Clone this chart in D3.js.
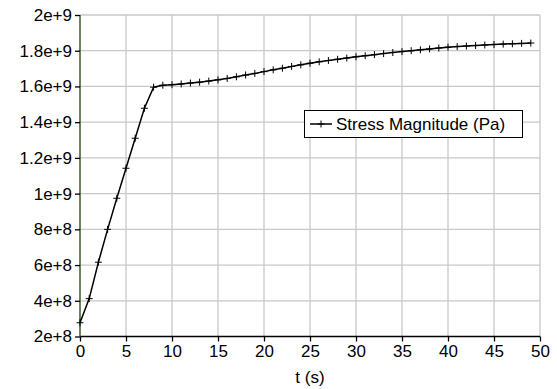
<!DOCTYPE html>
<html><head><meta charset="utf-8">
<script src="https://cdn.jsdelivr.net/npm/d3@7"></script>
<style>body{margin:0;background:#fff}svg{display:block}text{font-family:"Liberation Sans",Arial,Helvetica,sans-serif;fill:#000}</style>
</head><body><svg id="c" width="557" height="389"></svg>
<script>
const times = d3.range(0, 50);
const stress = [
 2.77e8, 4.12e8, 6.16e8, 8.00e8, 9.74e8, 1.142e9, 1.310e9, 1.478e9, 1.596e9, 1.607e9,
 1.610e9, 1.614e9, 1.619e9, 1.624e9, 1.630e9, 1.637e9, 1.645e9, 1.654e9, 1.664e9, 1.673e9,
 1.683e9, 1.693e9, 1.702e9, 1.712e9, 1.721e9, 1.730e9, 1.738e9, 1.745e9, 1.752e9, 1.759e9,
 1.766e9, 1.772e9, 1.778e9, 1.784e9, 1.790e9, 1.795e9, 1.800e9, 1.805e9, 1.810e9, 1.815e9,
 1.820e9, 1.823e9, 1.826e9, 1.829e9, 1.832e9, 1.835e9, 1.837e9, 1.839e9, 1.841e9, 1.843e9
];
const xTicks = [0,5,10,15,20,25,30,35,40,45,50];
const yTicks = [2e8,4e8,6e8,8e8,1e9,1.2e9,1.4e9,1.6e9,1.8e9,2e9];
const yTickLabels = ["2e+8","4e+8","6e+8","8e+8","1e+9","1.2e+9","1.4e+9","1.6e+9","1.8e+9","2e+9"];
const seriesName = "Stress Magnitude (Pa)";
const xTitle = "t (s)";

const svg = d3.select("#c");
const L=80, R=540, T=15, B=336.5;
const FS = "17px";
const x = d3.scaleLinear().domain([0,50]).range([L,R]);
const y = d3.scaleLinear().domain([2e8,2e9]).range([B,T]);

// grid
svg.append("g").selectAll("line").data(xTicks.slice(1)).join("line")
  .attr("x1",d=>x(d)).attr("x2",d=>x(d)).attr("y1",T).attr("y2",B)
  .attr("stroke","#c8c8c8").attr("stroke-width",1.3);
svg.append("g").selectAll("line").data(yTicks.slice(1)).join("line")
  .attr("x1",L).attr("x2",R).attr("y1",d=>y(d)).attr("y2",d=>y(d))
  .attr("stroke","#c8c8c8").attr("stroke-width",1.3);

// axes
const xAxis = d3.axisBottom(x).tickValues(xTicks).tickSize(5).tickPadding(3).tickFormat(d3.format("d"));
const gx = svg.append("g").attr("transform",`translate(0,${B})`).call(xAxis);
gx.select(".domain").attr("stroke","#000").attr("stroke-width",1.3).attr("d",`M${L},0H${R}`);
gx.selectAll(".tick line").attr("stroke","#000").attr("stroke-width",1.3);
gx.selectAll("text").style("font-size",FS);

const yAxis = d3.axisLeft(y).tickValues(yTicks).tickSize(5).tickPadding(3).tickFormat((d,i)=>yTickLabels[i]);
const gy = svg.append("g").attr("transform",`translate(${L},0)`).call(yAxis);
gy.select(".domain").attr("stroke","#3d5a2a").attr("stroke-width",1.5).attr("d",`M0,${B}V${T}`);
gy.selectAll(".tick line").attr("stroke","#000").attr("stroke-width",1.3);
gy.selectAll("text").style("font-size",FS);
svg.selectAll("g").attr("font-family",null).attr("font-size",null);

// series
const pts = times.map((t,i)=>[t,stress[i]]);
svg.append("path").datum(pts)
  .attr("d", d3.line().x(d=>x(d[0])).y(d=>y(d[1])))
  .attr("fill","none").attr("stroke","#000").attr("stroke-width",1.5);
const m = 3.5;
svg.append("g").selectAll("path").data(pts).join("path")
  .attr("d", d=>`M${x(d[0])-m},${y(d[1])}h${2*m}M${x(d[0])},${y(d[1])-m}v${2*m}`)
  .attr("stroke","#000").attr("stroke-width",1);

// x title
svg.append("text").attr("x",(L+R)/2).attr("y",383).attr("text-anchor","middle")
  .style("font-size",FS).text(xTitle);

// legend
const lg = svg.append("g");
lg.append("rect").attr("x",304.5).attr("y",110.5).attr("width",218).attr("height",27)
  .attr("fill","#fff").attr("stroke","#000").attr("stroke-width",1);
lg.append("line").attr("x1",310).attr("x2",332).attr("y1",124).attr("y2",124).attr("stroke","#000").attr("stroke-width",1.5);
lg.append("path").attr("d",`M${321-m},124h${2*m}M321,${124-m}v${2*m}`).attr("stroke","#000").attr("stroke-width",1);
lg.append("text").attr("x",336).attr("y",130).style("font-size",FS).text(seriesName);
</script></body></html>
